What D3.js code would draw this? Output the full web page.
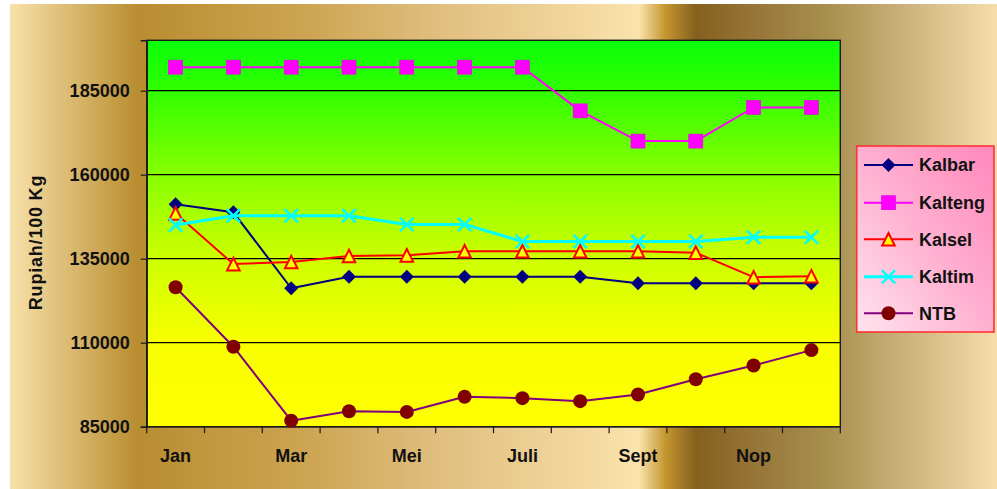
<!DOCTYPE html>
<html>
<head>
<meta charset="utf-8">
<script src="https://cdn.jsdelivr.net/npm/d3@7"></script>
<style>
  html, body { margin: 0; padding: 0; background: #fff; }
  svg { display: block; font-family: "Liberation Sans", Arial, sans-serif; }
</style>
</head>
<body>
<svg id="chart" width="997" height="489"></svg>
<script>
// ---- data ----
const categories = ["Jan","Feb","Mar","Apr","Mei","Jun","Juli","Agust","Sept","Okt","Nop","Des"];
const kalbar  = [151200,148800,126200,129600,129600,129600,129600,129600,127700,127700,127700,127700];
const kalteng = [192000,192000,192000,192000,192000,192000,192000,179000,170000,170000,180000,180000];
const kalsel  = [148500,133400,134000,135800,136000,137200,137200,137200,137200,136800,129500,129800];
const kaltim  = [145000,147800,147800,147800,145200,145200,140100,140100,140100,140100,141400,141400];
const ntb     = [126500,108800,86800,89600,89400,93900,93500,92600,94600,99100,103200,107800];
const seriesNames = ["Kalbar","Kalteng","Kalsel","Kaltim","NTB"];
const yTicks = [85000,110000,135000,160000,185000];
const yDomain = [85000,200000];
const yTitle = "Rupiah/100 Kg";

const series = [
  {name: seriesNames[0], values: kalbar,  line: "#000080", marker: "diamond",  fill: "#000080", stroke: "none", lw: 2},
  {name: seriesNames[1], values: kalteng, line: "#ff00ff", marker: "square",   fill: "#ff00ff", stroke: "none", lw: 2},
  {name: seriesNames[2], values: kalsel,  line: "#ff0000", marker: "triangle", fill: "#ffff00", stroke: "#ff0000", lw: 2},
  {name: seriesNames[3], values: kaltim,  line: "#00ffff", marker: "x",        fill: "none",    stroke: "#00ffff", lw: 3},
  {name: seriesNames[4], values: ntb,     line: "#800080", marker: "circle",   fill: "#800000", stroke: "none", lw: 2}
];

const svg = d3.select("#chart");
const defs = svg.append("defs");

// background gold gradient
const bg = defs.append("linearGradient").attr("id","bgGrad").attr("x1","0").attr("x2","1").attr("y1","0").attr("y2","0");
[[0,"#f8e1aa"],[0.13,"#b98d30"],[0.30,"#cda452"],[0.45,"#e2c283"],[0.56,"#f0d49a"],[0.637,"#fae3ad"],[0.664,"#c4962f"],[0.695,"#85601e"],[0.76,"#98783a"],[0.83,"#a8904f"],[0.90,"#c8af78"],[1,"#f5deab"]]
  .forEach(([o,c]) => bg.append("stop").attr("offset",o).attr("stop-color",c));

const pg = defs.append("linearGradient").attr("id","plotGrad").attr("x1","0").attr("x2","0").attr("y1","0").attr("y2","1");
[[0,"#0aff0a"],[0.13,"#30ff00"],[0.35,"#88ff00"],[0.56,"#ccff00"],[0.78,"#f8ff00"],[1,"#ffff00"]]
  .forEach(([o,c]) => pg.append("stop").attr("offset",o).attr("stop-color",c));

const lg = defs.append("linearGradient").attr("id","legGrad").attr("x1","0").attr("x2","1").attr("y1","1").attr("y2","0");
[[0,"#ffe4ee"],[0.5,"#ffb0d0"],[1,"#ff88bb"]]
  .forEach(([o,c]) => lg.append("stop").attr("offset",o).attr("stop-color",c));

svg.append("rect").attr("x",10).attr("y",4).attr("width",987).attr("height",485).attr("fill","url(#bgGrad)");

// plot area
const L = 146.7, R = 840.3, T = 40.3, B = 426.7;
const x = d3.scaleBand().domain(categories).range([L, R]).paddingInner(0).paddingOuter(0);
const y = d3.scaleLinear().domain(yDomain).range([B, T]);

svg.append("rect").attr("x",L).attr("y",T).attr("width",R-L).attr("height",B-T).attr("fill","url(#plotGrad)");

// gridlines
svg.append("g").selectAll("line").data(yTicks.filter(t => t > yDomain[0])).join("line")
  .attr("x1",L).attr("x2",R).attr("y1",d=>y(d)).attr("y2",d=>y(d))
  .attr("stroke","#000").attr("stroke-width",1.2);

svg.append("rect").attr("x",L).attr("y",T).attr("width",R-L).attr("height",B-T)
  .attr("fill","none").attr("stroke","#1a1a1a").attr("stroke-width",1.4);

// y axis
const yAxis = svg.append("g").attr("transform",`translate(${L},0)`)
  .call(d3.axisLeft(y).tickValues(yTicks).tickSize(6).tickPadding(11).tickFormat(d3.format("d")));
yAxis.select(".domain").attr("stroke","#1a1a1a").attr("stroke-width",1.4);
yAxis.selectAll(".tick line").attr("stroke","#1a1a1a").attr("stroke-width",1.2);
yAxis.selectAll("text").attr("font-size",18).attr("font-weight","bold").attr("fill","#111");

// x axis
const xAxis = svg.append("g").attr("transform",`translate(0,${B})`)
  .call(d3.axisBottom(x).tickSize(0).tickPadding(22.5).tickFormat((d,i) => i % 2 === 0 ? d : ""));
xAxis.select(".domain").remove();
xAxis.selectAll("text").attr("font-size",18).attr("font-weight","bold").attr("fill","#111");
const bounds = categories.map(c => x(c)).concat([x.range()[1]]);
svg.append("g").selectAll("line").data(bounds).join("line")
  .attr("x1",d=>d).attr("x2",d=>d).attr("y1",B).attr("y2",B+6.5)
  .attr("stroke","#1a1a1a").attr("stroke-width",1.2);
svg.append("line").attr("x1",L).attr("x2",R).attr("y1",B).attr("y2",B).attr("stroke","#1a1a1a").attr("stroke-width",1.6);

// y title
svg.append("text").attr("transform","translate(42,242.5) rotate(-90)")
  .attr("text-anchor","middle").attr("font-size",18).attr("font-weight","bold")
  .attr("letter-spacing","0.8").attr("fill","#111").text(yTitle);

// marker drawing
function drawMarker(g, s, size) {
  const h = size / 2;
  if (s.marker === "diamond") {
    g.append("path").attr("d",`M0,${-h}L${h},0L0,${h}L${-h},0Z`).attr("fill",s.fill);
  } else if (s.marker === "square") {
    g.append("rect").attr("x",-h).attr("y",-h).attr("width",size).attr("height",size).attr("fill",s.fill)
      .attr("stroke","#e000e0").attr("stroke-width",0.6);
  } else if (s.marker === "triangle") {
    const t = h * 0.9;
    g.append("path").attr("d",`M0,${-t}L${t},${t}L${-t},${t}Z`).attr("fill",s.fill)
      .attr("stroke",s.stroke).attr("stroke-width",2).attr("stroke-linejoin","miter");
  } else if (s.marker === "x") {
    const t = h * 0.95;
    g.append("path").attr("d",`M${-t},${-t}L${t},${t}M${-t},${t}L${t},${-t}`)
      .attr("stroke",s.stroke).attr("stroke-width",2.5).attr("fill","none");
  } else if (s.marker === "circle") {
    g.append("circle").attr("r",h).attr("fill",s.fill);
  }
}

const line = d3.line().x((d,i) => x(categories[i]) + x.bandwidth()/2).y(d => y(d));

series.forEach(s => {
  const g = svg.append("g");
  g.append("path").datum(s.values).attr("d",line).attr("fill","none")
    .attr("stroke",s.line).attr("stroke-width",s.lw).attr("stroke-linejoin","round");
  s.values.forEach((v,i) => {
    const mg = g.append("g").attr("transform",`translate(${x(categories[i]) + x.bandwidth()/2},${y(v)})`);
    drawMarker(mg, s, 14);
  });
});

// legend
const legX = 856.7, legY = 146, legW = 137.3, legH = 186;
svg.append("rect").attr("x",legX).attr("y",legY).attr("width",legW).attr("height",legH)
  .attr("fill","url(#legGrad)").attr("stroke","#ff3333").attr("stroke-width",1.6);
const legRowY = [165, 202.7, 239.3, 276.7, 313.3];
series.forEach((s,i) => {
  const g = svg.append("g").attr("transform",`translate(0,${legRowY[i]})`);
  g.append("line").attr("x1",864).attr("x2",913).attr("y1",0).attr("y2",0)
    .attr("stroke",s.line).attr("stroke-width",s.lw);
  const mg = g.append("g").attr("transform","translate(888.5,0)");
  drawMarker(mg, s, 14);
  g.append("text").attr("x",919).attr("y",0).attr("dy","0.36em").attr("font-size",18)
    .attr("font-weight","bold").attr("fill","#111").text(s.name);
});
</script>
</body>
</html>
